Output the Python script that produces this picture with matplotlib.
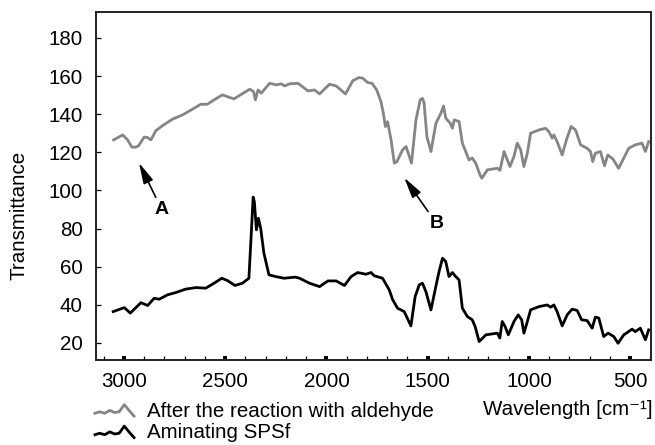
import numpy as np
import matplotlib
matplotlib.use("Agg")
import matplotlib.pyplot as plt
from matplotlib.lines import Line2D
from matplotlib.legend_handler import HandlerBase
from matplotlib.ticker import MultipleLocator

plt.rcParams["font.family"] = ["Liberation Sans", "DejaVu Sans"]
plt.rcParams["font.size"] = 14.8

# gray curve: after the reaction with aldehyde
wn_aldehyde = [3051, 3006, 2982, 2961, 2941, 2928, 2900, 2883, 2867, 2842, 2809, 2760, 2711,
               2662, 2621, 2588, 2555, 2514, 2457, 2399, 2379, 2360, 2351, 2338, 2322, 2281,
               2248, 2223, 2207, 2182, 2141, 2108, 2092, 2059, 2034, 1985, 1952, 1906, 1870,
               1841, 1821, 1797, 1775, 1752, 1731, 1719, 1709, 1698, 1681, 1665, 1652, 1640,
               1624, 1607, 1580, 1558, 1537, 1526, 1518, 1504, 1484, 1460, 1435, 1422, 1411,
               1389, 1378, 1369, 1345, 1329, 1296, 1280, 1263, 1241, 1233, 1205, 1156, 1143,
               1123, 1107, 1094, 1074, 1058, 1041, 1025, 1008, 992, 951, 918, 902, 885, 877,
               861, 836, 815, 792, 770, 745, 713, 696, 685, 672, 647, 627, 611, 585, 557, 532,
               507, 475, 442, 425, 409]
tr_aldehyde = [126.5, 129.1, 126.5, 122.7, 122.7, 123.4, 128.0, 127.7, 126.5, 131.4, 134.0,
               137.4, 139.6, 142.6, 145.2, 145.2, 147.5, 150.1, 148.0, 151.8, 153.1, 151.8,
               147.5, 152.7, 151.0, 156.2, 155.4, 155.9, 154.8, 155.9, 156.2, 153.6, 152.2,
               152.7, 150.6, 155.7, 154.8, 150.6, 157.5, 159.2, 158.9, 156.6, 156.2, 152.7,
               146.6, 140.5, 133.5, 136.0, 126.5, 114.3, 115.1, 117.8, 121.3, 123.0, 114.3,
               137.0, 147.5, 148.3, 146.0, 128.2, 120.4, 135.0, 140.5, 144.3, 137.9, 135.3,
               132.6, 137.0, 136.1, 124.8, 116.0, 117.0, 114.3, 108.0, 106.4, 110.8, 111.6,
               110.5, 120.4, 116.0, 112.5, 117.8, 124.8, 121.3, 112.5, 119.5, 130.0, 131.7,
               132.6, 130.9, 127.4, 129.1, 125.6, 118.6, 126.5, 133.5, 131.7, 123.9, 122.1,
               120.4, 115.1, 119.5, 120.4, 112.9, 118.6, 116.4, 111.6, 116.9, 122.1, 123.9,
               124.8, 120.4, 125.6]

# black curve: aminating SPSf
wn_spsf = [3053, 2998, 2969, 2941, 2916, 2883, 2851, 2826, 2785, 2744, 2695, 2645, 2596,
           2555, 2517, 2489, 2452, 2415, 2383, 2373, 2362, 2356, 2346, 2336, 2325, 2309,
           2284, 2251, 2210, 2153, 2133, 2084, 2034, 1993, 1952, 1911, 1878, 1846, 1805,
           1780, 1764, 1723, 1690, 1673, 1649, 1616, 1583, 1562, 1542, 1526, 1509, 1484,
           1460, 1444, 1427, 1411, 1395, 1378, 1362, 1345, 1329, 1304, 1280, 1266, 1246,
           1213, 1181, 1156, 1144, 1132, 1118, 1102, 1074, 1053, 1036, 1025, 1008, 992,
           951, 910, 893, 877, 861, 836, 811, 787, 762, 740, 713, 688, 672, 655, 631, 609,
           581, 560, 532, 508, 491, 475, 450, 425, 409]
tr_spsf = [36.4, 38.5, 35.6, 38.5, 41.1, 39.6, 43.4, 42.9, 45.2, 46.4, 48.2, 49.0, 48.7,
           51.3, 53.9, 52.7, 50.1, 51.3, 53.9, 74.0, 96.5, 94.0, 79.3, 85.4, 80.2, 67.1,
           55.7, 54.8, 53.9, 54.5, 53.9, 51.3, 49.5, 52.5, 52.5, 50.1, 54.8, 56.9, 56.0,
           56.9, 55.2, 53.9, 47.8, 42.6, 38.2, 36.4, 28.9, 44.3, 50.4, 51.3, 46.9, 37.3,
           49.5, 57.4, 64.4, 62.7, 54.8, 56.9, 54.8, 53.0, 38.2, 33.8, 32.1, 28.6, 20.7,
           24.2, 24.7, 25.1, 22.5, 31.2, 28.6, 24.2, 31.2, 34.7, 32.1, 25.1, 31.2, 37.3,
           39.0, 39.9, 38.7, 39.9, 36.4, 28.9, 34.7, 37.7, 37.0, 32.1, 31.7, 27.7, 33.5,
           33.0, 23.3, 25.1, 23.3, 19.8, 24.2, 25.9, 27.2, 25.9, 27.7, 21.6, 26.8]

series_labels = ["After the reaction with aldehyde", "Aminating SPSf"]
series_colors = ["#858585", "black"]
y_ticks = [20, 40, 60, 80, 100, 120, 140, 160, 180]
x_ticks = [3000, 2500, 2000, 1500, 1000, 500]


class WavyHandler(HandlerBase):
    # small squiggle used as legend symbol
    def create_artists(self, legend, orig_handle, xdescent, ydescent,
                       width, height, fontsize, trans):
        u = np.array([0.0, 0.12, 0.25, 0.38, 0.5, 0.62, 0.75, 0.87, 1.0])
        v = np.array([0.25, 0.35, 0.25, 0.45, 0.3, 0.35, 0.85, 0.45, 0.05])
        line = Line2D(-xdescent + u * width, -ydescent + v * height,
                      color=orig_handle.get_color(), lw=orig_handle.get_linewidth(),
                      solid_joinstyle="round", transform=trans)
        return [line]


fig = plt.figure(figsize=(6.55, 4.45), dpi=100)
ax = fig.add_axes([0.1466, 0.191, 0.8474, 0.782])

h1, = ax.plot(wn_aldehyde, tr_aldehyde, color=series_colors[0], lw=2.0,
              solid_joinstyle="round")
h2, = ax.plot(wn_spsf, tr_spsf, color=series_colors[1], lw=2.0,
              solid_joinstyle="round")

ax.set_xlim(3138, 397)
ax.set_ylim(11, 193.6)
ax.set_xticks(x_ticks)
ax.xaxis.set_minor_locator(MultipleLocator(100))
ax.set_yticks(y_ticks)

ax.tick_params(axis="x", which="major", direction="in", length=3, width=2.8, pad=8.5)
ax.tick_params(axis="x", which="minor", direction="in", length=3, width=0.9)
ax.tick_params(axis="y", which="major", direction="in", length=3.5, width=0.9, pad=9.5)
for sp in ax.spines.values():
    sp.set_linewidth(1.4)
    sp.set_color("#222222")

ax.set_ylabel("Transmittance")
ax.yaxis.set_label_coords(-0.121, 0.415)

arrow_kw = dict(arrowstyle="-|>,head_length=0.9,head_width=0.22", color="black",
                lw=1.2, shrinkA=1, shrinkB=0)
ax.annotate("A", xy=(2926, 114.5), xytext=(2813, 89.8), ha="center", va="center",
            fontsize=14, fontweight="bold", arrowprops=arrow_kw)
ax.annotate("B", xy=(1616, 106.7), xytext=(1455, 82.4), ha="center", va="center",
            fontsize=14, fontweight="bold", arrowprops=arrow_kw)

fig.legend([h1, h2], series_labels, loc="upper left", bbox_to_anchor=(0.145, 0.097),
           frameon=False, handlelength=1.9, handletextpad=0.65, labelspacing=0.12,
           borderaxespad=0, borderpad=0,
           handler_map={Line2D: WavyHandler()})

fig.text(0.996, 0.079, "Wavelength [cm\u207b\u00b9]", ha="right", va="center")

fig.savefig("out.png", dpi=100)
